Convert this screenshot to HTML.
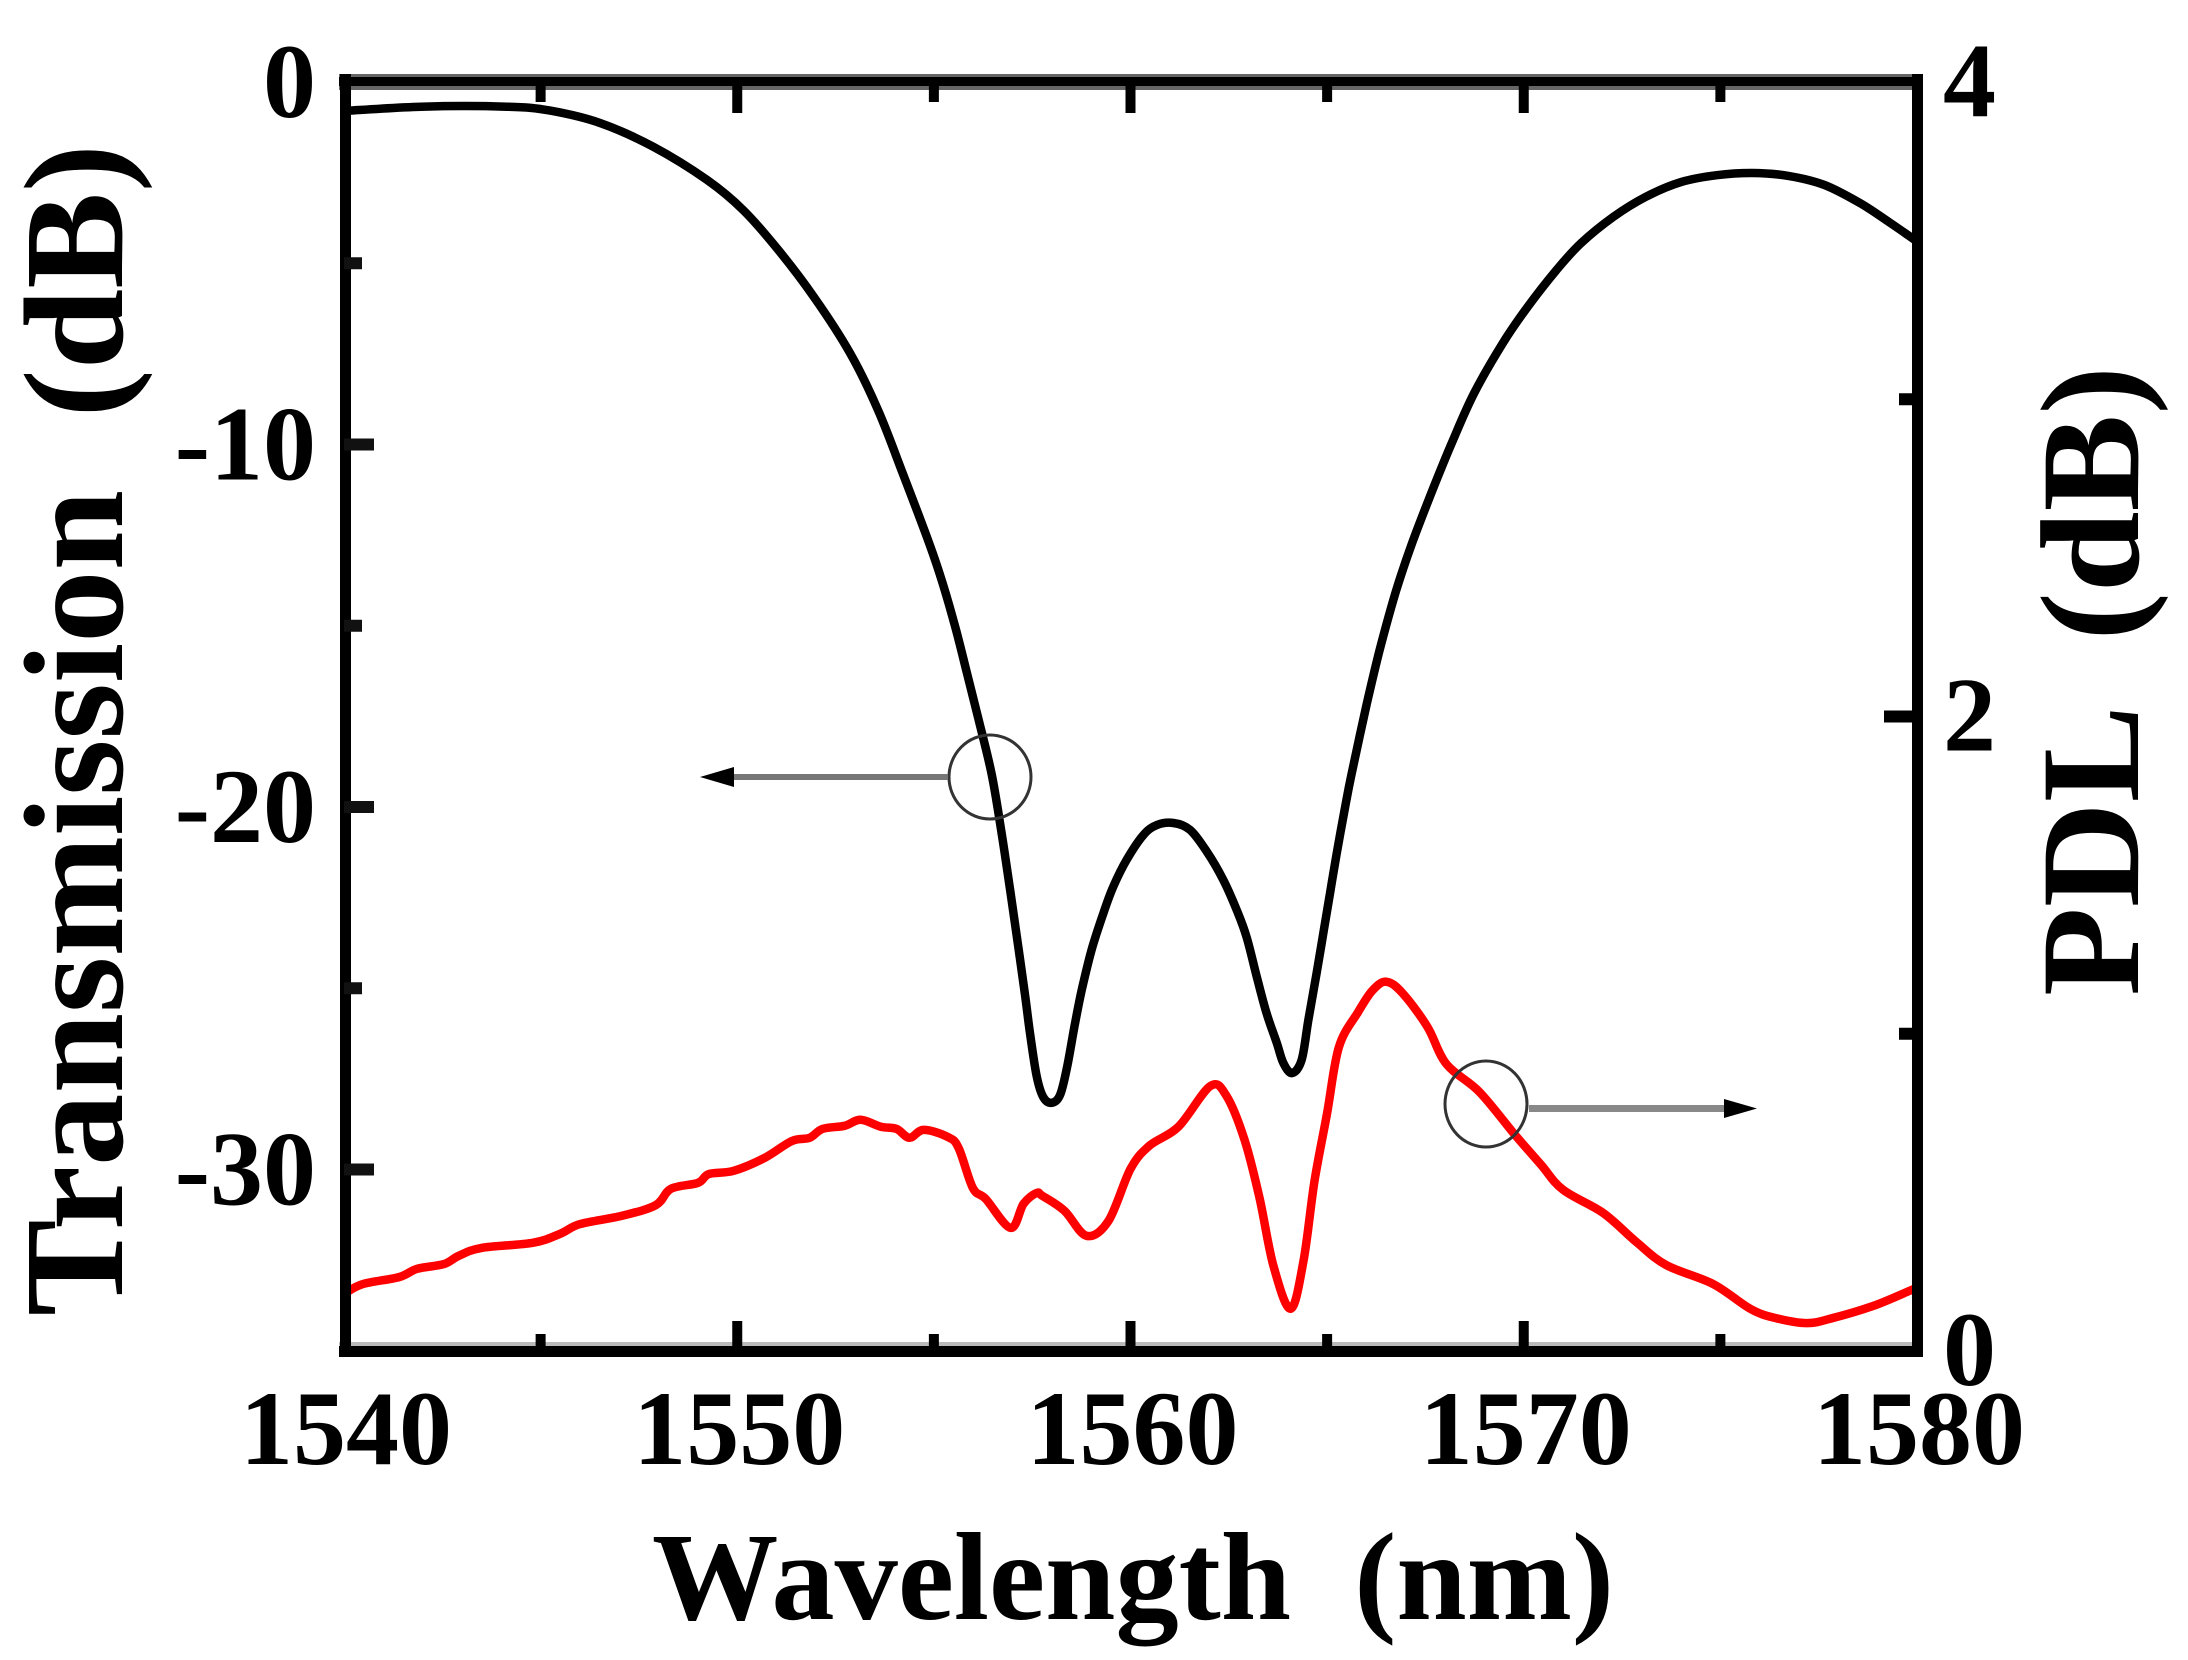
<!DOCTYPE html>
<html>
<head>
<meta charset="utf-8">
<title>Transmission and PDL vs Wavelength</title>
<style>
html,body{margin:0;padding:0;background:#fff;}
svg{display:block;}
text{font-family:"Liberation Serif",serif;font-weight:bold;fill:#000;}
</style>
</head>
<body>
<svg id="chart" width="2188" height="1660" viewBox="0 0 2188 1660" xmlns="http://www.w3.org/2000/svg">
  <rect x="0" y="0" width="2188" height="1660" fill="#fff"/>
  <g id="series"></g>
  <g id="axes"></g>
  <g id="ticks"></g>
  <g id="labels"></g>
  <g>
    <ellipse cx="990" cy="777" rx="41" ry="42" fill="none" stroke="#333" stroke-width="3"/>
    <rect x="730" y="774" width="218" height="6" fill="#777"/>
    <polygon points="700,777 734,767 734,787" fill="#000"/>
  </g>
  <g>
    <ellipse cx="1486" cy="1104" rx="41" ry="43" fill="none" stroke="#333" stroke-width="3"/>
    <rect x="1529" y="1105" width="197" height="7" fill="#888"/>
    <polygon points="1757,1108.500 1724,1099 1724,1118" fill="#000"/>
  </g>
  <text x="652" y="1619" font-size="125" textLength="962" lengthAdjust="spacingAndGlyphs" xml:space="preserve">Wavelength  (nm)</text>
  <text transform="translate(122,1316) rotate(-90)" x="0" y="0" font-size="142" textLength="1172" lengthAdjust="spacingAndGlyphs" xml:space="preserve">Transmission  (dB)</text>
  <text transform="translate(2138,996) rotate(-90)" x="0" y="0" font-size="141" textLength="630" lengthAdjust="spacingAndGlyphs" xml:space="preserve">PDL  (dB)</text>
</svg>
<script>
const transmissionWavelength = [1540,1541.96,1544.14,1545.24,1546.51,1547.87,1549.23,1550.15,1551.05,1551.95,1552.87,1553.58,1554.21,1554.89,1555.23,1555.56,1555.84,1556.14,1556.47,1556.72,1556.94,1557.14,1557.32,1557.44,1557.61,1557.78,1558,1558.21,1558.39,1558.59,1558.76,1559.01,1559.31,1559.56,1559.9,1560.33,1560.67,1561.09,1561.51,1561.94,1562.36,1562.7,1562.95,1563.21,1563.46,1563.72,1563.89,1564.11,1564.35,1564.52,1564.73,1564.9,1565.07,1565.24,1565.45,1565.62,1566.01,1566.34,1566.75,1567.15,1567.65,1568.2,1568.74,1569.47,1570.1,1570.83,1571.46,1572.28,1573.1,1574,1574.91,1575.82,1576.73,1577.64,1578.55,1579.28,1579.87,1580];
const transmissionDb = [-0.8,-0.68,-0.68,-0.79,-1.13,-1.79,-2.7,-3.53,-4.64,-5.93,-7.48,-9.05,-10.8,-12.75,-13.85,-15.1,-16.3,-17.6,-19.1,-20.7,-22.3,-23.8,-25.2,-26.2,-27.4,-28,-28.16,-27.94,-27.16,-25.96,-25.05,-23.94,-22.93,-22.2,-21.46,-20.77,-20.5,-20.44,-20.63,-21.23,-22.01,-22.84,-23.58,-24.68,-25.69,-26.51,-27.07,-27.34,-26.98,-25.9,-24.6,-23.5,-22.4,-21.3,-20.05,-19.1,-17.15,-15.65,-14.05,-12.75,-11.34,-9.88,-8.58,-7.2,-6.2,-5.19,-4.44,-3.72,-3.17,-2.76,-2.57,-2.51,-2.59,-2.84,-3.34,-3.86,-4.3,-4.4];

const pdlWavelength = [1540.04,1540.48,1541.4,1541.86,1542.54,1542.92,1543.5,1544.8,1545.49,1546,1547.06,1547.93,1548.31,1549,1549.28,1549.91,1550.7,1551.39,1551.84,1552.17,1552.73,1553.14,1553.65,1554.05,1554.38,1554.74,1555.35,1555.63,1555.99,1556.32,1556.95,1557.28,1557.61,1557.76,1558.32,1558.88,1559.44,1560,1560.48,1561.22,1562.03,1562.44,1562.9,1563.28,1563.63,1564.07,1564.4,1564.68,1565,1565.3,1565.79,1566.15,1566.5,1566.91,1567.55,1568.03,1568.87,1569.78,1570.44,1571,1572.02,1572.86,1573.62,1574.82,1575.76,1576.4,1577.2,1577.86,1578.88,1579.8,1580];
const pdlDb = [0.183,0.211,0.233,0.259,0.274,0.3,0.325,0.341,0.369,0.4,0.426,0.46,0.511,0.53,0.558,0.568,0.609,0.662,0.672,0.7,0.71,0.729,0.707,0.7,0.672,0.697,0.675,0.64,0.514,0.479,0.388,0.464,0.498,0.489,0.442,0.363,0.41,0.574,0.647,0.707,0.835,0.804,0.666,0.483,0.271,0.133,0.284,0.536,0.75,0.958,1.069,1.136,1.164,1.129,1.022,0.905,0.817,0.681,0.587,0.508,0.435,0.344,0.271,0.211,0.133,0.104,0.088,0.104,0.142,0.189,0.2];

const xMajorTicks = [1540,1550,1560,1570,1580];
const xMinorTicks = [1545,1555,1565,1575];
const leftMajorTicks = [0,-10,-20,-30];
const leftMinorTicks = [-5,-15,-25];
const rightMajorTicks = [4,2,0];
const rightMinorTicks = [3,1];

const SVGNS = 'http://www.w3.org/2000/svg';
const plot = {left:344, right:1917, top:82, bottom:1351};
const xDomain = [1540,1580];
const rightDomain = [0,4];
const dbPerPixel = 36.25;

function xScale(v){ return plot.left + (v - xDomain[0]) / (xDomain[1] - xDomain[0]) * (plot.right - plot.left); }
function leftScale(v){ return plot.top - v * dbPerPixel; }
function rightScale(v){ return plot.bottom - (v - rightDomain[0]) / (rightDomain[1] - rightDomain[0]) * (plot.bottom - plot.top); }

function make(tag, attrs, parent){
  const el = document.createElementNS(SVGNS, tag);
  for (const k in attrs) el.setAttribute(k, attrs[k]);
  parent.appendChild(el);
  return el;
}

function smoothPath(pts){
  let d = 'M' + pts[0][0].toFixed(1) + ' ' + pts[0][1].toFixed(1);
  for (let i = 0; i < pts.length - 1; i++){
    const p0 = pts[Math.max(i-1,0)], p1 = pts[i], p2 = pts[i+1], p3 = pts[Math.min(i+2,pts.length-1)];
    const c1x = p1[0] + (p2[0]-p0[0])/6, c1y = p1[1] + (p2[1]-p0[1])/6;
    const c2x = p2[0] - (p3[0]-p1[0])/6, c2y = p2[1] - (p3[1]-p1[1])/6;
    d += 'C' + c1x.toFixed(1) + ' ' + c1y.toFixed(1) + ' ' + c2x.toFixed(1) + ' ' + c2y.toFixed(1) + ' ' + p2[0].toFixed(1) + ' ' + p2[1].toFixed(1);
  }
  return d;
}

const seriesG = document.getElementById('series');
const axesG = document.getElementById('axes');
const ticksG = document.getElementById('ticks');
const labelsG = document.getElementById('labels');

const transmissionPts = transmissionWavelength.map((w,i) => [xScale(w), leftScale(transmissionDb[i])]);
const blackLine = make('path', {d:smoothPath(transmissionPts), fill:'none', stroke:'#000', 'stroke-width':8.5, 'stroke-linejoin':'round'}, seriesG);



const pdlPts = pdlWavelength.map((w,i) => [xScale(w), rightScale(pdlDb[i])]);
const redLine = make('path', {d:smoothPath(pdlPts), fill:'none', stroke:'#f00', 'stroke-width':8.5, 'stroke-linejoin':'round'}, seriesG);



const topEdge = make('rect', {x:plot.left-5, y:plot.top-8, width:plot.right-plot.left+10, height:16, fill:'#666'}, axesG);


const topAxis = make('rect', {x:plot.left-5, y:plot.top-5, width:plot.right-plot.left+10, height:9, fill:'#000'}, axesG);


const bottomEdge = make('rect', {x:plot.left-5, y:plot.bottom-9, width:plot.right-plot.left+10, height:5, fill:'#bbb'}, axesG);


const bottomAxis = make('rect', {x:plot.left-5, y:plot.bottom-5, width:plot.right-plot.left+11, height:11, fill:'#000'}, axesG);


const leftAxis = make('rect', {x:plot.left-4, y:plot.top-8, width:11, height:plot.bottom-plot.top+14, fill:'#000'}, axesG);


const rightAxis = make('rect', {x:plot.right-5, y:plot.top-8, width:11, height:plot.bottom-plot.top+14, fill:'#000'}, axesG);



xMajorTicks.forEach(v => {
  const x = xScale(v);
  if (v !== xDomain[0] && v !== xDomain[1]) {
    const b = make('rect', {x:x-5, y:plot.bottom-30, width:10, height:30, fill:'#000'}, ticksG);
    
    
    const t = make('rect', {x:x-5, y:plot.top, width:10, height:31, fill:'#000'}, ticksG);
    
    
  }
  const lab = make('text', {x:x+2, y:1464, 'font-size':106, 'text-anchor':'middle'}, labelsG);
  lab.textContent = String(v);
  
  
});
xMinorTicks.forEach(v => {
  const x = xScale(v);
  const b = make('rect', {x:x-5, y:plot.bottom-17, width:10, height:17, fill:'#000'}, ticksG);
  
  
  const t = make('rect', {x:x-5, y:plot.top, width:10, height:20, fill:'#000'}, ticksG);
  
  
});
leftMajorTicks.forEach(v => {
  const y = leftScale(v);
  if (v !== 0) {
    const t = make('rect', {x:plot.left, y:y-6, width:30, height:12, fill:'#111'}, ticksG);
    
    
  }
  const lab = make('text', {x:316, y:y+35, 'font-size':106, 'text-anchor':'end'}, labelsG);
  lab.textContent = String(v);
  
  
});
leftMinorTicks.forEach(v => {
  const t = make('rect', {x:plot.left, y:leftScale(v)-6, width:18, height:12, fill:'#111'}, ticksG);
  
  
});
rightMajorTicks.forEach(v => {
  const y = rightScale(v);
  if (v === 2) {
    const t = make('rect', {x:plot.right-33, y:y-6, width:33, height:12, fill:'#000'}, ticksG);
    
    
  }
  const lab = make('text', {x:1943, y:y+34, 'font-size':106, 'text-anchor':'start'}, labelsG);
  lab.textContent = String(v);
  
  
});
rightMinorTicks.forEach(v => {
  const t = make('rect', {x:plot.right-18, y:rightScale(v)-6, width:18, height:12, fill:'#000'}, ticksG);
  
  
});
</script>
</body>
</html>
